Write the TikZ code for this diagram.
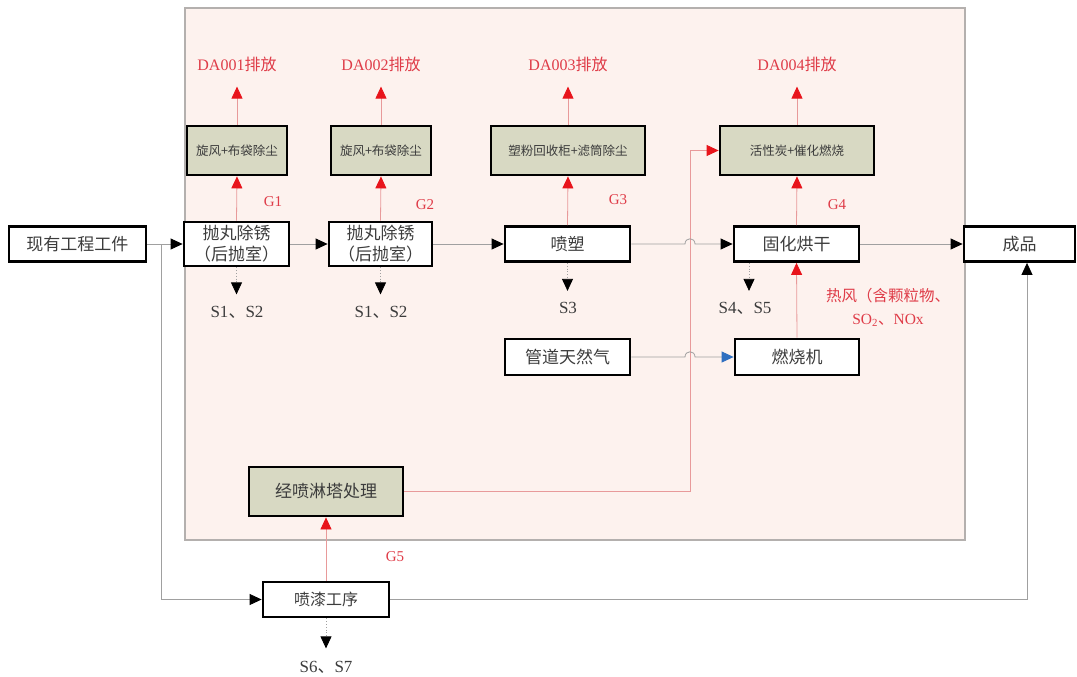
\documentclass[tikz,border=0pt]{standalone}
\usepackage{fontspec}
\setmainfont{Liberation Serif}
\newfontfamily\cjk{Noto Sans CJK SC}
\usetikzlibrary{arrows.meta}
\definecolor{bgpink}{HTML}{FDF2EE}
\definecolor{bgborder}{HTML}{B4B0AE}
\definecolor{filtfill}{HTML}{D8D9C3}
\definecolor{txtgray}{HTML}{3C3C3C}
\definecolor{linegray}{HTML}{A0A0A0}
\definecolor{linered}{HTML}{E89A9A}
\definecolor{arrred}{HTML}{E8141B}
\definecolor{redtxt}{HTML}{DF3C48}
\definecolor{arrblue}{HTML}{2F6FC0}
\begin{document}
\begin{tikzpicture}[x=1pt,y=-1pt,
  box/.style={draw=black, line width=2.8pt, fill=white, inner sep=0pt, text=txtgray,
    font=\cjk\fontsize{17}{21}\selectfont, align=center},
  filt/.style={box, fill=filtfill, font=\cjk\fontsize{12.5}{15}\selectfont},
  flow/.style={draw=linegray, line width=0.8pt, -{Triangle[length=12pt,width=11pt,color=black]}},
  redflow/.style={draw=linered, line width=0.8pt, -{Triangle[length=12pt,width=11pt,color=arrred]}},
  blueflow/.style={draw=linegray, line width=0.8pt, -{Triangle[length=12pt,width=11pt,color=arrblue]}},
  waste/.style={draw=linegray, line width=0.8pt, dotted, -{Triangle[length=12pt,width=11pt,color=black]}},
  lbl/.style={text=txtgray, font=\fontsize{17}{19}\selectfont, inner sep=0pt},
  rlbl/.style={text=redtxt, font=\fontsize{16}{18}\selectfont, inner sep=0pt},
  glbl/.style={text=redtxt, font=\fontsize{15}{17}\selectfont, inner sep=0pt}
]
\useasboundingbox (0,0) rectangle (1077,677);
% background area
\filldraw[fill=bgpink, draw=bgborder, line width=1.2pt] (185,8) rectangle (965,540);

% nodes
\node[box, minimum width=137, minimum height=35] (src) at (77.5,244) {现有工程工件};
\node[box, minimum width=105, minimum height=44] (pw1) at (236.5,244) {抛丸除锈\\（后抛室）};
\node[box, minimum width=103, minimum height=44] (pw2) at (380.5,244) {抛丸除锈\\（后抛室）};
\node[box, minimum width=125, minimum height=35] (ps) at (567.5,244) {喷塑};
\node[box, minimum width=125, minimum height=35] (gh) at (796.5,244) {固化烘干};
\node[box, minimum width=111, minimum height=35] (cp) at (1019.5,244) {成品};
\node[filt, minimum width=100, minimum height=49] (f1) at (237,150.5) {旋风+布袋除尘};
\node[filt, minimum width=100, minimum height=49] (f2) at (381,150.5) {旋风+布袋除尘};
\node[filt, minimum width=154, minimum height=49] (f3) at (568,150.5) {塑粉回收柜+滤筒除尘};
\node[filt, minimum width=154, minimum height=49] (f4) at (797,150.5) {活性炭+催化燃烧};
\node[box, minimum width=125, minimum height=36] (gas) at (567.5,357) {管道天然气};
\node[box, minimum width=124, minimum height=36] (bur) at (797,357) {燃烧机};
\node[filt, minimum width=154, minimum height=49, font=\cjk\fontsize{17}{21}\selectfont] (tow) at (326,491.5) {经喷淋塔处理};
\node[box, minimum width=126, minimum height=35, font=\cjk\fontsize{16}{20}\selectfont] (pq) at (326,599.5) {喷漆工序};

% labels
\node[rlbl] (da1) at (237,64) {DA001{\cjk 排放}};
\node[rlbl] (da2) at (381,64) {DA002{\cjk 排放}};
\node[rlbl] (da3) at (568,64) {DA003{\cjk 排放}};
\node[rlbl] (da4) at (797,64) {DA004{\cjk 排放}};
\node[glbl] (g1) at (273,202) {G1};
\node[glbl] (g2) at (425,205) {G2};
\node[glbl] (g3) at (618,200) {G3};
\node[glbl] (g4) at (837,205) {G4};
\node[glbl] (g5) at (395,557) {G5};
\node[lbl] (s12a) at (237,312) {S1{\cjk 、}S2};
\node[lbl] (s12b) at (381,312) {S1{\cjk 、}S2};
\node[lbl] (s3) at (568,308) {S3};
\node[lbl] (s45) at (745,308) {S4{\cjk 、}S5};
\node[lbl] (s67) at (326,667) {S6{\cjk 、}S7};
\node[rlbl, align=center, font=\fontsize{15.5}{23}\selectfont] (hot) at (888,307) {{\cjk 热风（含颗粒物、}\\SO\textsubscript{2}{\cjk 、}NOx};

% red (gas) connectors
\draw[redflow] (tow.east) -- (690,491.5) -- (690,150.5) -- (f4.west);
\draw[redflow] (pw1.north) -- (f1.south);
\draw[redflow] (pw2.north) -- (f2.south);
\draw[redflow] (ps.north) -- (f3.south);
\draw[redflow] (gh.north) -- (f4.south);
\draw[redflow] (bur.north) -- (gh.south);
\draw[redflow] (f1.north) -- ++(0,-38);
\draw[redflow] (f2.north) -- ++(0,-38);
\draw[redflow] (f3.north) -- ++(0,-38);
\draw[redflow] (f4.north) -- ++(0,-38);
\draw[redflow] (pq.north) -- (tow.south);

% main flow
\coordinate (br) at (161,244);
\draw[flow] (src.east) -- (pw1.west);
\draw[flow] (pw1.east) -- (pw2.west);
\draw[flow] (pw2.east) -- (ps.west);
\draw[flow] (ps.east) -- (685,244) .. controls (685,237) and (695,237) .. (695,244) -- (gh.west);
\draw[flow] (gh.east) -- (cp.west);
\draw[flow] (br) -- (161,599.5) -- (pq.west);
\draw[flow] (pq.east) -- (1027,599.5) -- ([xshift=7.5pt]cp.south);
\draw[blueflow] (gas.east) -- (685,357) .. controls (685,350) and (695,350) .. (695,357) -- (bur.west);

% waste outputs
\draw[waste] (pw1.south) -- ++(0,27);
\draw[waste] (pw2.south) -- ++(0,27);
\draw[waste] (ps.south) -- ++(0,28);
\draw[waste] ([xshift=-47.5pt]gh.south) -- ++(0,28);
\draw[waste] (pq.south) -- ++(0,30);
\end{tikzpicture}
\end{document}
